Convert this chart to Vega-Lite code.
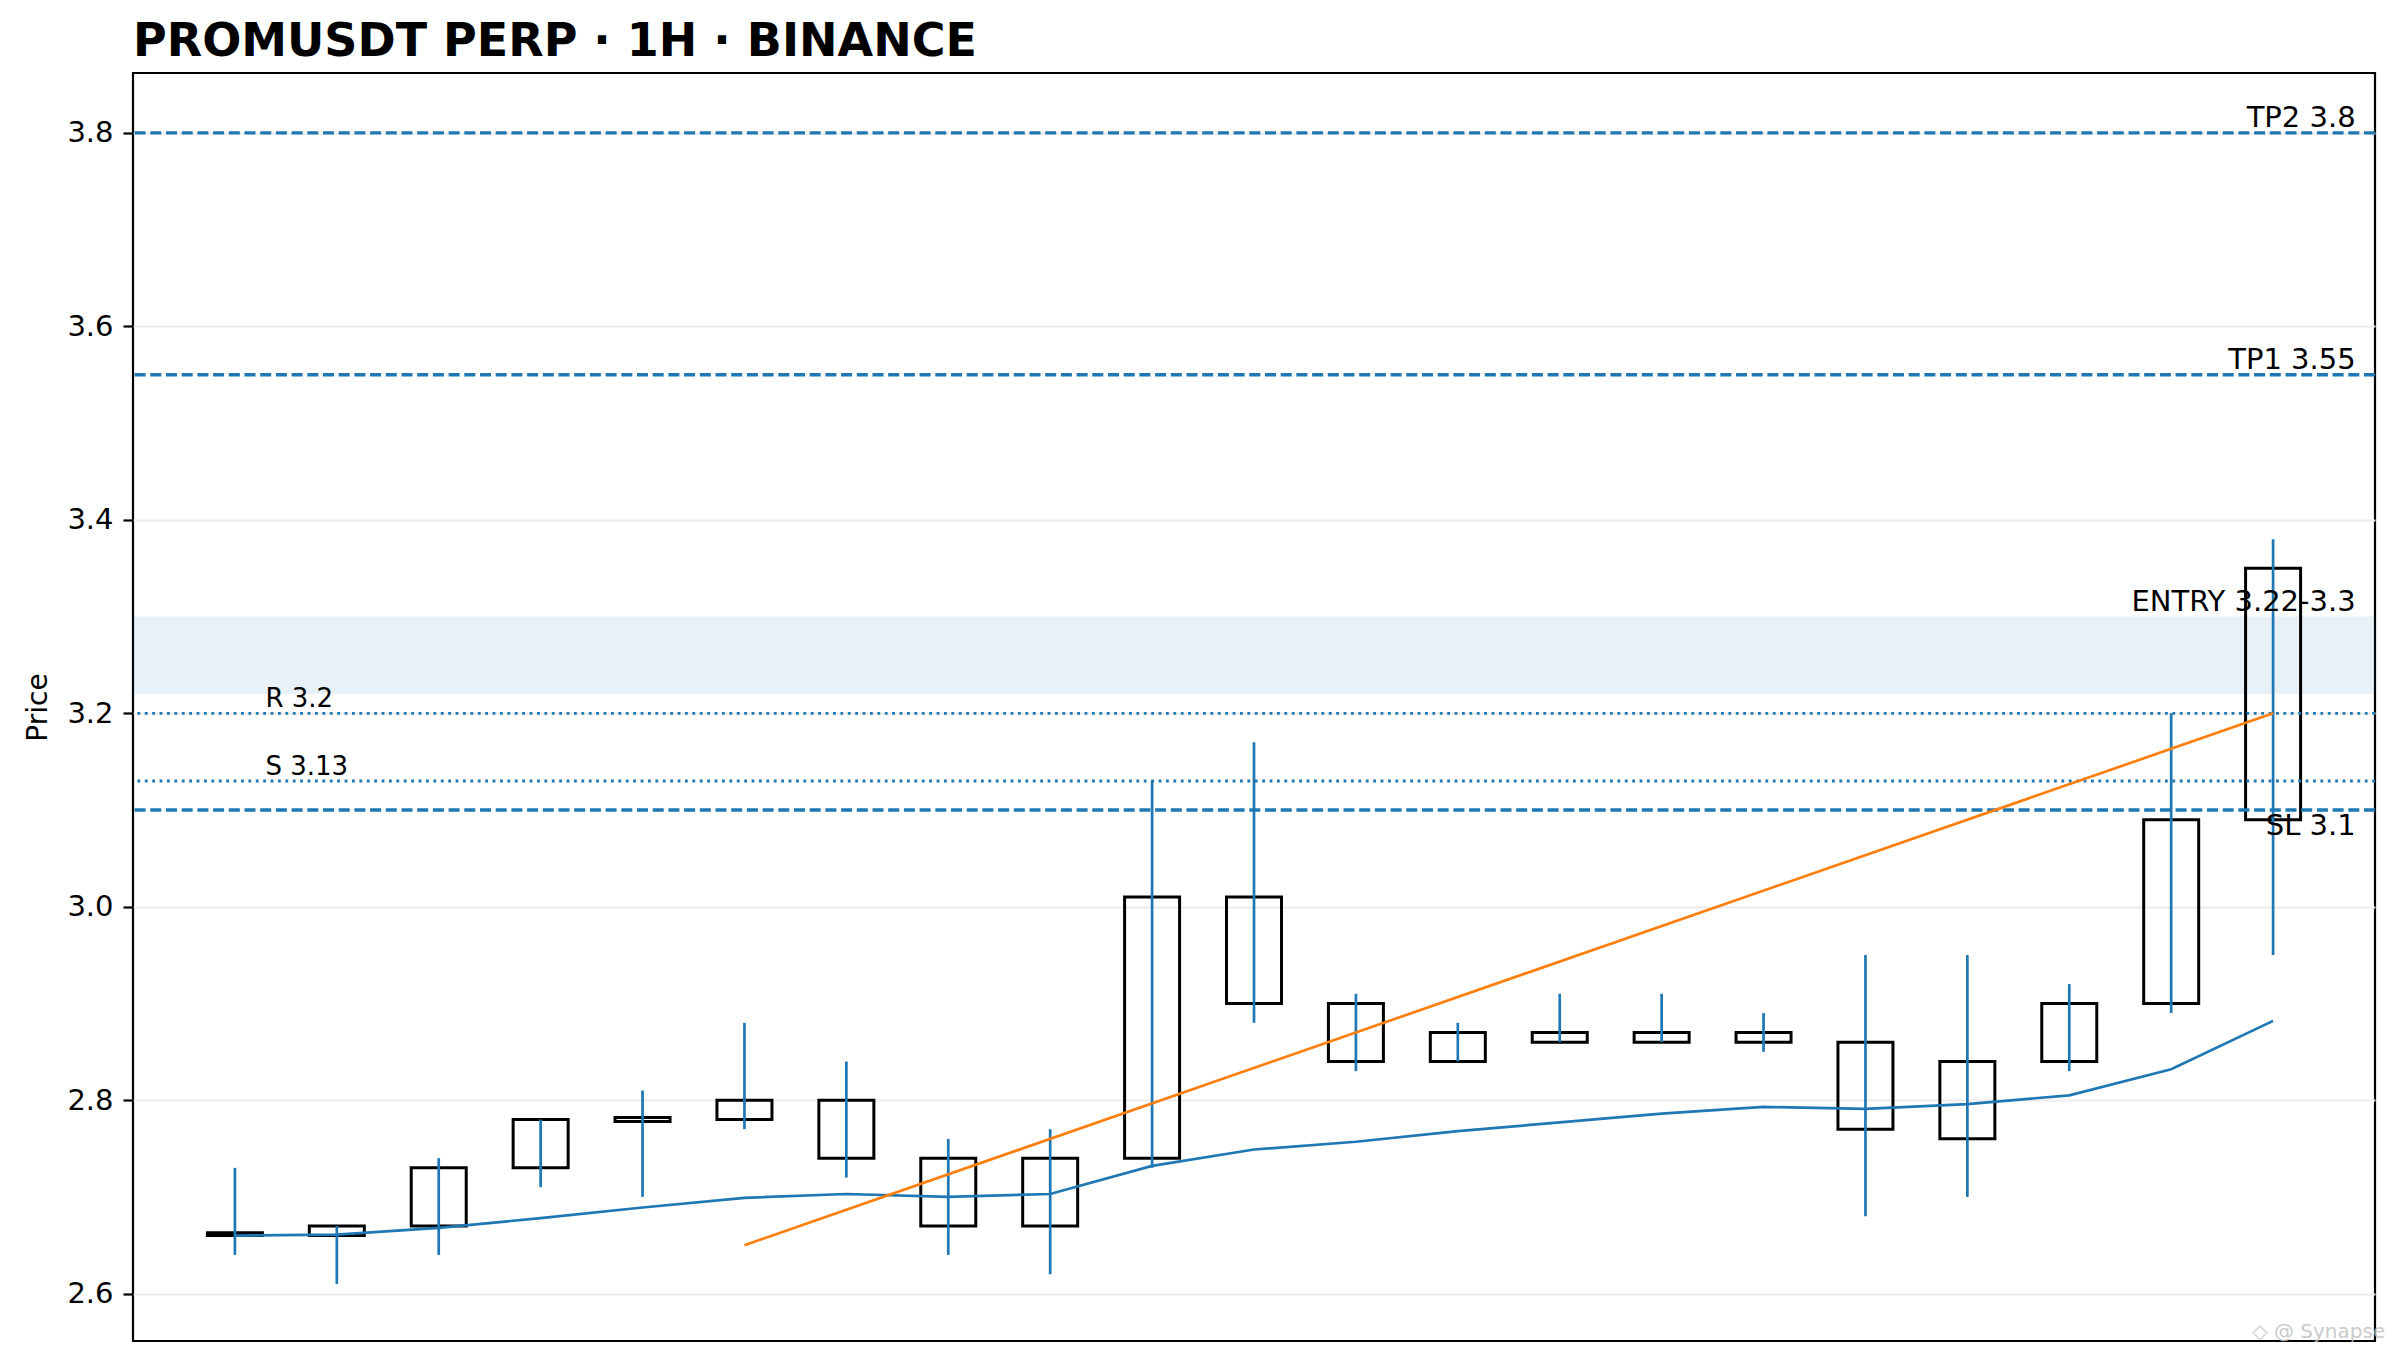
{
  "$schema": "https://vega.github.io/schema/vega-lite/v6.json",
  "width": 2242,
  "height": 1268,
  "autosize": {"type": "none"},
  "padding": {"left": 133, "top": 73, "right": 22, "bottom": 23},
  "background": "white",
  "title": {
    "text": "PROMUSDT PERP · 1H · BINANCE",
    "anchor": "start",
    "frame": "group",
    "font": "DejaVu Sans",
    "fontSize": 46,
    "fontWeight": "bold",
    "color": "black",
    "baseline": "alphabetic",
    "offset": 16,
    "dy": 45
  },
  "datasets": {
    "candles": [
      {"i": 0, "open": 2.66, "high": 2.73, "low": 2.64, "close": 2.663, "ma": 2.660},
      {"i": 1, "open": 2.66, "high": 2.67, "low": 2.61, "close": 2.67, "ma": 2.661},
      {"i": 2, "open": 2.67, "high": 2.74, "low": 2.64, "close": 2.73, "ma": 2.668},
      {"i": 3, "open": 2.73, "high": 2.78, "low": 2.71, "close": 2.78, "ma": 2.678},
      {"i": 4, "open": 2.778, "high": 2.81, "low": 2.70, "close": 2.782, "ma": 2.689},
      {"i": 5, "open": 2.78, "high": 2.88, "low": 2.77, "close": 2.80, "ma": 2.699},
      {"i": 6, "open": 2.80, "high": 2.84, "low": 2.72, "close": 2.74, "ma": 2.703},
      {"i": 7, "open": 2.74, "high": 2.76, "low": 2.64, "close": 2.67, "ma": 2.700},
      {"i": 8, "open": 2.67, "high": 2.77, "low": 2.62, "close": 2.74, "ma": 2.703},
      {"i": 9, "open": 2.74, "high": 3.13, "low": 2.73, "close": 3.01, "ma": 2.732},
      {"i": 10, "open": 3.01, "high": 3.17, "low": 2.88, "close": 2.90, "ma": 2.749},
      {"i": 11, "open": 2.90, "high": 2.91, "low": 2.83, "close": 2.84, "ma": 2.757},
      {"i": 12, "open": 2.84, "high": 2.88, "low": 2.84, "close": 2.87, "ma": 2.768},
      {"i": 13, "open": 2.87, "high": 2.91, "low": 2.86, "close": 2.86, "ma": 2.777},
      {"i": 14, "open": 2.86, "high": 2.91, "low": 2.86, "close": 2.87, "ma": 2.786},
      {"i": 15, "open": 2.87, "high": 2.89, "low": 2.85, "close": 2.86, "ma": 2.793},
      {"i": 16, "open": 2.86, "high": 2.95, "low": 2.68, "close": 2.77, "ma": 2.791},
      {"i": 17, "open": 2.76, "high": 2.95, "low": 2.70, "close": 2.84, "ma": 2.796},
      {"i": 18, "open": 2.84, "high": 2.92, "low": 2.83, "close": 2.90, "ma": 2.805},
      {"i": 19, "open": 2.90, "high": 3.20, "low": 2.89, "close": 3.09, "ma": 2.832},
      {"i": 20, "open": 3.09, "high": 3.38, "low": 2.95, "close": 3.35, "ma": 2.882}
    ],
    "trend": [
      {"i": 5, "price": 2.65},
      {"i": 20, "price": 3.20}
    ],
    "levels": [
      {"type": "target", "label": "TP2 3.8", "price": 3.8},
      {"type": "target", "label": "TP1 3.55", "price": 3.55},
      {"type": "stop", "label": "SL 3.1", "price": 3.1},
      {"type": "resistance", "label": "R 3.2", "price": 3.2},
      {"type": "support", "label": "S 3.13", "price": 3.13}
    ],
    "zone": [
      {"label": "ENTRY 3.22-3.3", "lo": 3.22, "hi": 3.3}
    ]
  },
  "layer": [
    {
      "data": {"name": "zone"},
      "mark": {"type": "rect", "color": "#1f77b4", "opacity": 0.1},
      "encoding": {
        "y": {
          "field": "lo", "type": "quantitative", "title": "Price",
          "scale": {"domain": [2.551, 3.862], "nice": false, "zero": false, "padding": 0},
          "axis": {"values": [2.6, 2.8, 3.0, 3.2, 3.4, 3.6, 3.8], "format": ".1f"}
        },
        "y2": {"field": "hi"}
      }
    },
    {
      "data": {"name": "candles"},
      "mark": {"type": "bar", "size": 55, "fill": "white", "fillOpacity": 0, "stroke": "black", "strokeWidth": 3},
      "encoding": {
        "x": {"field": "i", "type": "quantitative", "axis": null, "scale": {"domain": [-1, 21], "nice": false, "zero": false, "padding": 0}},
        "y": {"field": "open", "type": "quantitative", "title": "Price"},
        "y2": {"field": "close"}
      }
    },
    {
      "data": {"name": "candles"},
      "mark": {"type": "rule", "color": "#1f77b4", "strokeWidth": 2.7},
      "encoding": {
        "x": {"field": "i", "type": "quantitative", "axis": null},
        "y": {"field": "low", "type": "quantitative", "title": "Price"},
        "y2": {"field": "high"}
      }
    },
    {
      "data": {"name": "levels"},
      "transform": [{"filter": "datum.type == 'target' || datum.type == 'stop'"}],
      "mark": {"type": "rule", "color": "#1f77b4", "strokeWidth": 3.3, "strokeDash": [11, 4.7]},
      "encoding": {
        "y": {"field": "price", "type": "quantitative", "title": "Price"}
      }
    },
    {
      "data": {"name": "levels"},
      "transform": [{"filter": "datum.type == 'resistance' || datum.type == 'support'"}],
      "mark": {"type": "rule", "color": "#1f77b4", "strokeWidth": 2.8, "strokeDash": [2.8, 4.6]},
      "encoding": {
        "y": {"field": "price", "type": "quantitative", "title": "Price"}
      }
    },
    {
      "data": {"name": "candles"},
      "mark": {"type": "line", "color": "#1f77b4", "strokeWidth": 2.7},
      "encoding": {
        "x": {"field": "i", "type": "quantitative", "axis": null},
        "y": {"field": "ma", "type": "quantitative", "title": "Price"}
      }
    },
    {
      "data": {"name": "trend"},
      "mark": {"type": "line", "color": "#ff7f0e", "strokeWidth": 2.7},
      "encoding": {
        "x": {"field": "i", "type": "quantitative", "axis": null},
        "y": {"field": "price", "type": "quantitative", "title": "Price"}
      }
    },
    {
      "data": {"name": "levels"},
      "transform": [{"filter": "datum.type == 'target'"}],
      "mark": {"type": "text", "align": "right", "baseline": "alphabetic", "dy": -6, "font": "DejaVu Sans", "fontSize": 29, "color": "black"},
      "encoding": {
        "x": {"datum": 20.81, "type": "quantitative"},
        "y": {"field": "price", "type": "quantitative", "title": "Price"},
        "text": {"field": "label"}
      }
    },
    {
      "data": {"name": "levels"},
      "transform": [{"filter": "datum.type == 'stop'"}],
      "mark": {"type": "text", "align": "right", "baseline": "top", "dy": 2, "font": "DejaVu Sans", "fontSize": 29, "color": "black"},
      "encoding": {
        "x": {"datum": 20.81, "type": "quantitative"},
        "y": {"field": "price", "type": "quantitative", "title": "Price"},
        "text": {"field": "label"}
      }
    },
    {
      "data": {"name": "levels"},
      "transform": [{"filter": "datum.type == 'resistance' || datum.type == 'support'"}],
      "mark": {"type": "text", "align": "left", "baseline": "alphabetic", "dy": -6, "font": "DejaVu Sans", "fontSize": 26, "color": "black"},
      "encoding": {
        "x": {"datum": 0.3, "type": "quantitative"},
        "y": {"field": "price", "type": "quantitative", "title": "Price"},
        "text": {"field": "label"}
      }
    },
    {
      "data": {"name": "zone"},
      "mark": {"type": "text", "align": "right", "baseline": "alphabetic", "dy": -6, "font": "DejaVu Sans", "fontSize": 29, "color": "black"},
      "encoding": {
        "x": {"datum": 20.81, "type": "quantitative"},
        "y": {"field": "hi", "type": "quantitative", "title": "Price"},
        "text": {"field": "label"}
      }
    },
    {
      "data": {"values": [{"mark": "◇ @ Synapse", "price": 2.554}]},
      "mark": {"type": "text", "align": "right", "baseline": "alphabetic", "font": "DejaVu Sans", "fontSize": 20, "color": "#bdbdbd", "opacity": 0.8},
      "encoding": {
        "x": {"datum": 21.1, "type": "quantitative"},
        "y": {"field": "price", "type": "quantitative", "title": "Price"},
        "text": {"field": "mark"}
      }
    }
  ],
  "config": {
    "view": {"stroke": "black", "strokeWidth": 2.2},
    "axisY": {
      "domain": false,
      "labelFont": "DejaVu Sans",
      "labelFontSize": 29,
      "labelColor": "black",
      "labelPadding": 10,
      "tickColor": "black",
      "tickSize": 10,
      "tickWidth": 2.2,
      "gridColor": "#ececec",
      "gridWidth": 2,
      "titleFont": "DejaVu Sans",
      "titleFontSize": 28,
      "titleFontWeight": "normal",
      "titleColor": "black",
      "titlePadding": 14
    }
  }
}
